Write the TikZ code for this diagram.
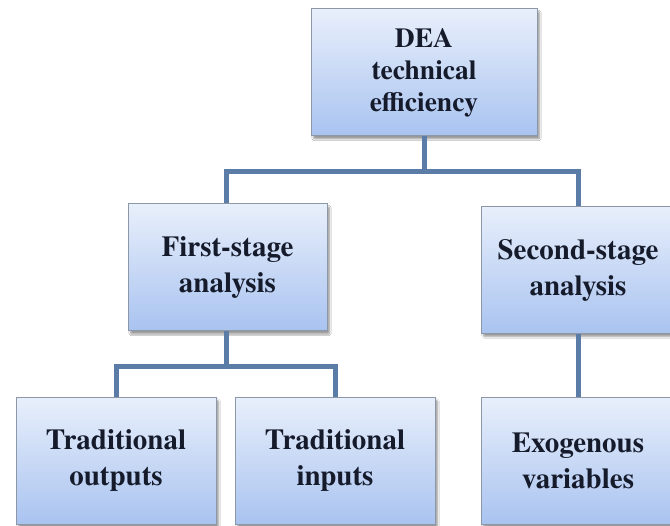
\documentclass[tikz,border=0pt]{standalone}
\usepackage{fontspec}
\newfontfamily\boxfont{texgyretermes}[Extension=.otf, UprightFont=*-regular, BoldFont=*-bold]
\usetikzlibrary{shadows.blur}
\definecolor{boxtop}{HTML}{E8EFFB}
\definecolor{boxbot}{HTML}{A9C3F0}
\definecolor{boxline}{HTML}{8C97A8}
\definecolor{linkcol}{HTML}{5A7CA6}
\definecolor{textcol}{HTML}{151B2B}
\tikzset{
  levelbox/.style={rectangle, draw=boxline, line width=1pt,
    top color=boxtop, bottom color=boxbot,
    minimum height=127pt, inner sep=0pt, align=center,
    text=textcol, font=\boxfont\bfseries\fontsize{29}{36}\selectfont,
    blur shadow={shadow xshift=2.5pt, shadow yshift=-3pt,
      shadow blur steps=6, shadow blur extra rounding=1pt, shadow opacity=40}},
  link/.style={draw=linkcol, line width=5pt, line cap=butt, line join=miter}
}
\begin{document}
\begin{tikzpicture}[x=1pt, y=-1pt]
  \fill[white] (0,0) rectangle (670,526);
  \useasboundingbox (0,0) rectangle (670,526);
  \clip (0,0) rectangle (670,526);

  % boxes
  \node[levelbox, minimum width=226pt, font=\boxfont\bfseries\fontsize{27.5}{32}\selectfont]
    (dea) at (424,72.5) {DEA\\technical\\efficiency};
  \node[levelbox, minimum width=199pt] (first) at (227.5,267.5) {First-stage\\analysis};
  \node[levelbox, minimum width=194pt] (second) at (578,270) {Second-stage\\analysis};
  \node[levelbox, minimum width=200pt] (outs) at (116,461) {Traditional\\outputs};
  \node[levelbox, minimum width=200pt] (ins) at (335,461) {Traditional\\inputs};
  \node[levelbox, minimum width=194pt] (exo) at (578,461) {Exogenous\\variables};

  % junction points of the tree
  \coordinate (j1) at (424,172);
  \coordinate (j2) at (226,367);

  % connectors
  \draw[link] (dea.south) -- (j1);
  \draw[link] (first.north -| j2) |- (j1) -| (second.north);
  \draw[link] (first.south -| j2) -- (j2);
  \draw[link] (outs.north) |- (j2) -| (ins.north);
  \draw[link] (second.south) -- (exo.north);
\end{tikzpicture}
\end{document}
